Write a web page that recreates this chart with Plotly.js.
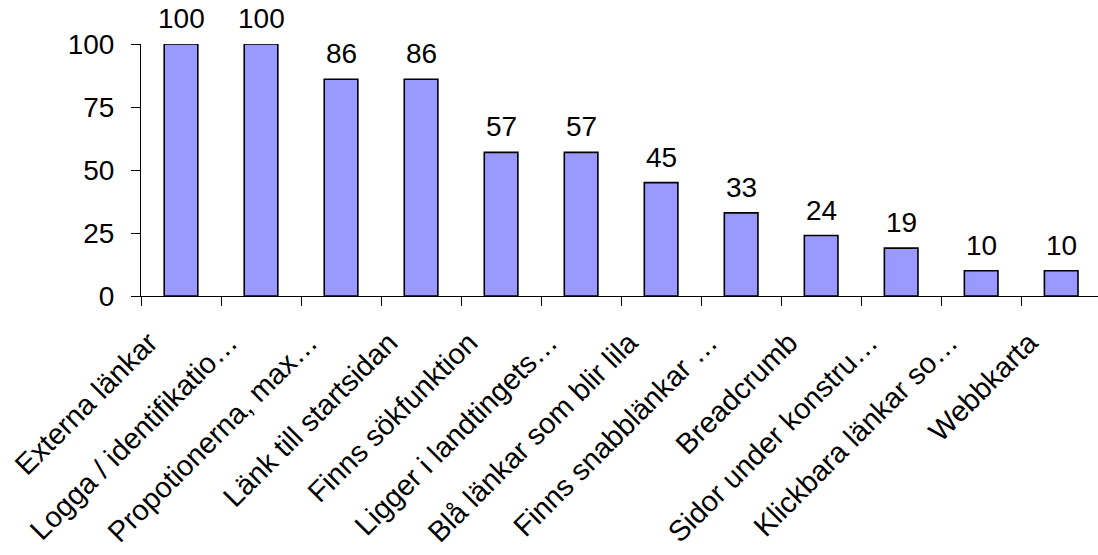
<!DOCTYPE html>
<html>
<head>
<meta charset="utf-8">
<script src="https://cdn.plot.ly/plotly-3.0.1.min.js"></script>
<style>
  html, body { margin: 0; padding: 0; background: #fff; overflow: hidden; }
  #chart { width: 1098px; height: 555px; }
</style>
</head>
<body>
<div id="chart"></div>
<script>
// Share of sites (%) that have each feature
const categories = [
  "Externa länkar",
  "Logga / identifikatio…",
  "Propotionerna, max…",
  "Länk till startsidan",
  "Finns sökfunktion",
  "Ligger i landtingets…",
  "Blå länkar som blir lila",
  "Finns snabblänkar …",
  "Breadcrumb",
  "Sidor under konstru…",
  "Klickbara länkar so…",
  "Webbkarta"
];
const values = [100, 100, 86, 86, 57, 57, 45, 33, 24, 19, 10, 10];
const yTicks = [0, 25, 50, 75, 100];

const font = "'Liberation Sans', Arial, sans-serif";

const trace = {
  type: "bar",
  x: categories,
  y: values,
  width: 0.42,
  marker: { color: "#9999FF", line: { color: "#000000", width: 1.6 } },
  cliponaxis: false,
  hoverinfo: "x+y"
};

// value labels above each bar
const valueLabels = categories.map((c, i) => ({
  x: c,
  y: values[i],
  xref: "x",
  yref: "y",
  text: String(values[i]),
  showarrow: false,
  xanchor: "center",
  yanchor: "bottom",
  yshift: 8,
  font: { family: font, size: 28, color: "#000" }
}));

const layout = {
  width: 1098,
  height: 555,
  margin: { l: 141, r: 0, t: 44, b: 259, pad: 0 },
  paper_bgcolor: "#fff",
  plot_bgcolor: "#fff",
  showlegend: false,
  font: { family: font, color: "#000" },
  annotations: valueLabels,
  xaxis: {
    type: "category",
    range: [-0.5, 11.46],
    tickangle: -45,
    tickson: "boundaries",
    ticks: "outside",
    ticklen: 9,
    tickcolor: "#000",
    tickwidth: 1,
    showline: true,
    linecolor: "#000",
    linewidth: 1,
    showgrid: false,
    zeroline: false,
    ticklabelshift: -32,
    ticklabelstandoff: 17,
    tickfont: { family: font, size: 29, color: "#000" },
    fixedrange: true
  },
  yaxis: {
    range: [0, 100],
    tickvals: yTicks,
    ticktext: yTicks.map(String),
    ticks: "outside",
    ticklen: 9,
    tickcolor: "#000",
    tickwidth: 1,
    showline: true,
    linecolor: "#000",
    linewidth: 1,
    showgrid: false,
    zeroline: false,
    ticklabelstandoff: 11,
    tickfont: { family: font, size: 28, color: "#000" },
    fixedrange: true
  }
};

Plotly.newPlot("chart", [trace], layout, { displayModeBar: false, staticPlot: true });
</script>
</body>
</html>
